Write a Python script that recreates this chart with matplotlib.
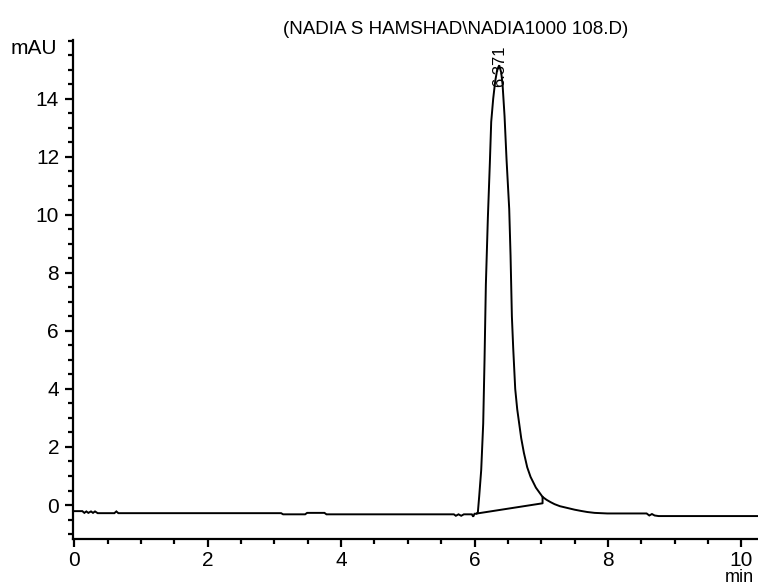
import matplotlib
matplotlib.use("Agg")
import matplotlib.pyplot as plt
from matplotlib.ticker import MultipleLocator

plt.rcParams['font.family'] = ['Liberation Sans', 'DejaVu Sans']

# Chromatogram trace (time in min, signal in mAU)
time_min = [0.00, 0.12, 0.15, 0.18, 0.21, 0.25, 0.28, 0.31, 0.35, 0.60, 0.63, 0.66,
            3.10, 3.13, 3.46, 3.49, 3.75, 3.78, 5.69, 5.72, 5.76, 5.80, 5.84, 5.96,
            5.98, 6.00, 6.03, 6.05, 6.07, 6.10, 6.13, 6.15, 6.17, 6.20, 6.23, 6.25,
            6.28, 6.31, 6.34, 6.37, 6.40, 6.42, 6.45, 6.48, 6.52, 6.54, 6.56, 6.58,
            6.61, 6.64, 6.67, 6.70, 6.74, 6.79, 6.84, 6.92, 7.02, 7.08, 7.14, 7.20,
            7.28, 7.39, 7.50, 7.59, 7.69, 7.80, 7.99, 8.58, 8.62, 8.66, 8.70, 8.76,
            10.25]
signal_mau = [-0.21, -0.21, -0.27, -0.22, -0.27, -0.22, -0.27, -0.22, -0.28, -0.28, -0.22, -0.28,
              -0.28, -0.32, -0.32, -0.27, -0.27, -0.32, -0.32, -0.37, -0.32, -0.37, -0.32, -0.32,
              -0.40, -0.30, -0.30, -0.25, 0.30, 1.20, 2.80, 5.00, 7.60, 9.90, 11.80, 13.20,
              14.00, 14.60, 15.00, 15.15, 14.90, 14.50, 13.40, 11.90, 10.20, 8.60, 6.50, 5.40,
              4.00, 3.30, 2.80, 2.30, 1.80, 1.30, 0.97, 0.60, 0.28, 0.18, 0.10, 0.03,
              -0.04, -0.10, -0.16, -0.20, -0.24, -0.27, -0.29, -0.29, -0.36, -0.31, -0.36, -0.38,
              -0.38]

# Integration baseline and drop line
baseline_t = [6.04, 7.02, 7.02]
baseline_v = [-0.29, 0.06, 0.28]

peak_rt = 6.371
peak_label = "6.371"
peak_label_y = 14.4

title = "(NADIA S HAMSHAD\\NADIA1000 108.D)"
x_ticks = [0, 2, 4, 6, 8, 10]
y_ticks = [0, 2, 4, 6, 8, 10, 12, 14]

fig = plt.figure(figsize=(7.58, 5.88), dpi=100)
ax = fig.add_axes([73/758, 49/588, 1 - 73/758, 499/588])

ax.plot(time_min, signal_mau, color='black', lw=1.4, solid_joinstyle='miter')
ax.plot(baseline_t, baseline_v, color='black', lw=1.4)

ax.set_xlim(-0.02, 10.25)
ax.set_ylim(-1.17, 16.02)

for s in ['top', 'right']:
    ax.spines[s].set_visible(False)
for s in ['left', 'bottom']:
    ax.spines[s].set_linewidth(1.6)

ax.set_xticks(x_ticks)
ax.set_yticks(y_ticks)
ax.xaxis.set_minor_locator(MultipleLocator(0.5))
ax.yaxis.set_minor_locator(MultipleLocator(0.5))
ax.tick_params(which='major', direction='out', length=6, width=1.6, labelsize=15, pad=4)
ax.tick_params(axis='x', which='major', pad=3)
ax.tick_params(which='minor', direction='out', length=3.5, width=1.6)

ax.text(peak_rt, peak_label_y, peak_label, rotation=90, ha='center', va='bottom',
        fontsize=12)

fig.text(456/758, 1 - 30/588, title, ha='center', va='center', fontsize=13.5)
fig.text(57/758, 1 - 48/588, "mAU", ha='right', va='center', fontsize=15)
fig.text(725/758, 1.5/588, "min", ha='left', va='bottom', fontsize=13)

fig.savefig("out.png", dpi=100)
